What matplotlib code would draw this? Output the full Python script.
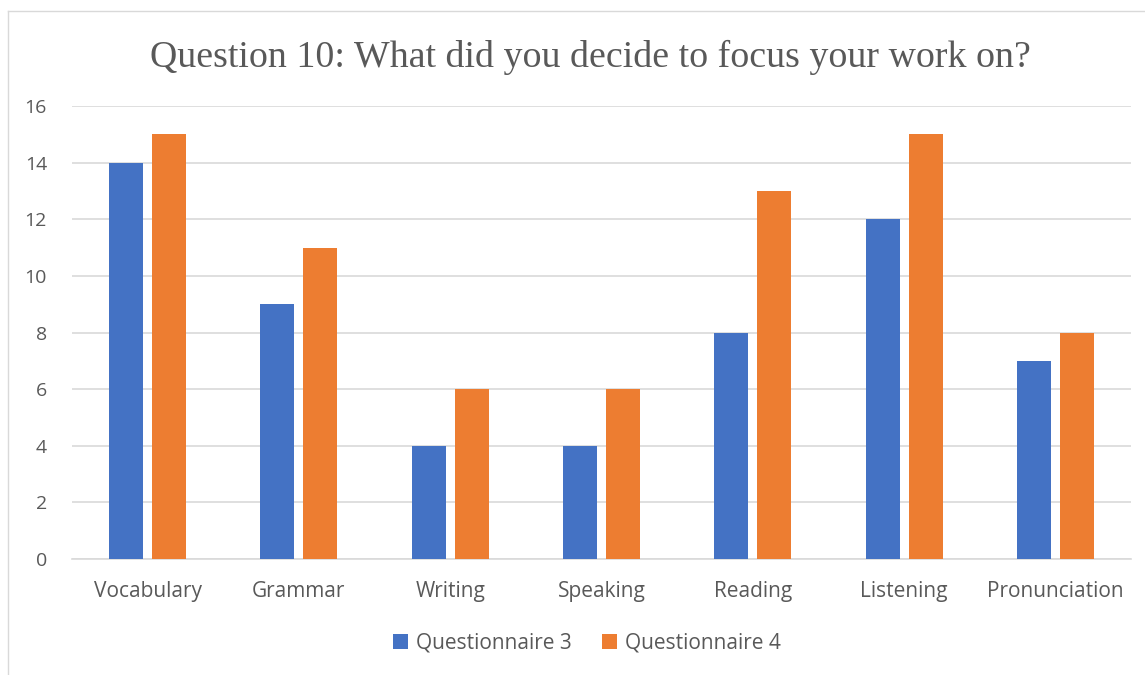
import matplotlib
matplotlib.use("Agg")
import matplotlib.pyplot as plt
from matplotlib.lines import Line2D
from matplotlib.patches import Patch
import numpy as np

categories = ["Vocabulary", "Grammar", "Writing", "Speaking", "Reading", "Listening", "Pronunciation"]
q3_values = [14, 9, 4, 4, 8, 12, 7]
q4_values = [15, 11, 6, 6, 13, 15, 8]
series_names = ["Questionnaire 3", "Questionnaire 4"]
y_ticks = [0, 2, 4, 6, 8, 10, 12, 14, 16]
title = "Question 10: What did you decide to focus your work on?"

BLUE = "#4472C4"
ORANGE = "#ED7D31"
TEXT = "#595959"
GRID = "#D9D9D9"
SANS = ["Open Sans", "DejaVu Sans"]
SERIF = ["Liberation Serif", "DejaVu Serif"]

W, H = 1145, 675
fig = plt.figure(figsize=(W / 100, H / 100), dpi=100)
fig.patch.set_facecolor("white")

# chart frame (top and left edges visible)
fig.add_artist(Line2D([7.5 / W, 1.0], [1 - 10.5 / H, 1 - 10.5 / H], transform=fig.transFigure,
                      color=GRID, lw=1.0))
fig.add_artist(Line2D([7.5 / W, 7.5 / W], [0.0, 1 - 10.5 / H], transform=fig.transFigure,
                      color=GRID, lw=1.0))

ax = fig.add_axes([72 / W, 116 / H, (1131 - 72) / W, (559 - 106) / H])
x = np.arange(len(categories))
bw = 0.225
off = 0.142
ax.bar(x - off, q3_values, width=bw, color=BLUE, zorder=3)
ax.bar(x + off, q4_values, width=bw, color=ORANGE, zorder=3)

ax.set_xlim(-0.5, len(categories) - 0.5)
ax.set_ylim(0, 16)
ax.set_yticks(y_ticks)
ax.set_yticklabels([str(v) for v in y_ticks], fontfamily=SANS, fontsize=14, color=TEXT)
ax.set_xticks(x)
ax.set_xticklabels(categories, fontfamily=SANS, fontsize=15, color=TEXT)
ax.tick_params(axis="y", length=0, pad=18)
ax.tick_params(axis="x", length=0, pad=16)
ax.grid(axis="y", color=GRID, lw=1.2, zorder=0)
for s in ["top", "right", "left"]:
    ax.spines[s].set_visible(False)
ax.spines["bottom"].set_color(GRID)
ax.spines["bottom"].set_linewidth(1.2)

fig.text(0.5 * (151 + 1030) / W, 1 - 57 / H, title, ha="center", va="center",
         fontfamily=SERIF, fontsize=27.3, color=TEXT)

handles = [Patch(facecolor=BLUE, edgecolor="none"), Patch(facecolor=ORANGE, edgecolor="none")]
leg = fig.legend(handles, series_names, loc="center", bbox_to_anchor=(587 / W, 1 - 643 / H),
                 ncol=2, frameon=False, handlelength=0.7, handleheight=0.7, handletextpad=0.4,
                 columnspacing=1.45, prop={"family": SANS, "size": 15})
for t in leg.get_texts():
    t.set_color(TEXT)

fig.savefig("out.png", dpi=100, facecolor="white")
